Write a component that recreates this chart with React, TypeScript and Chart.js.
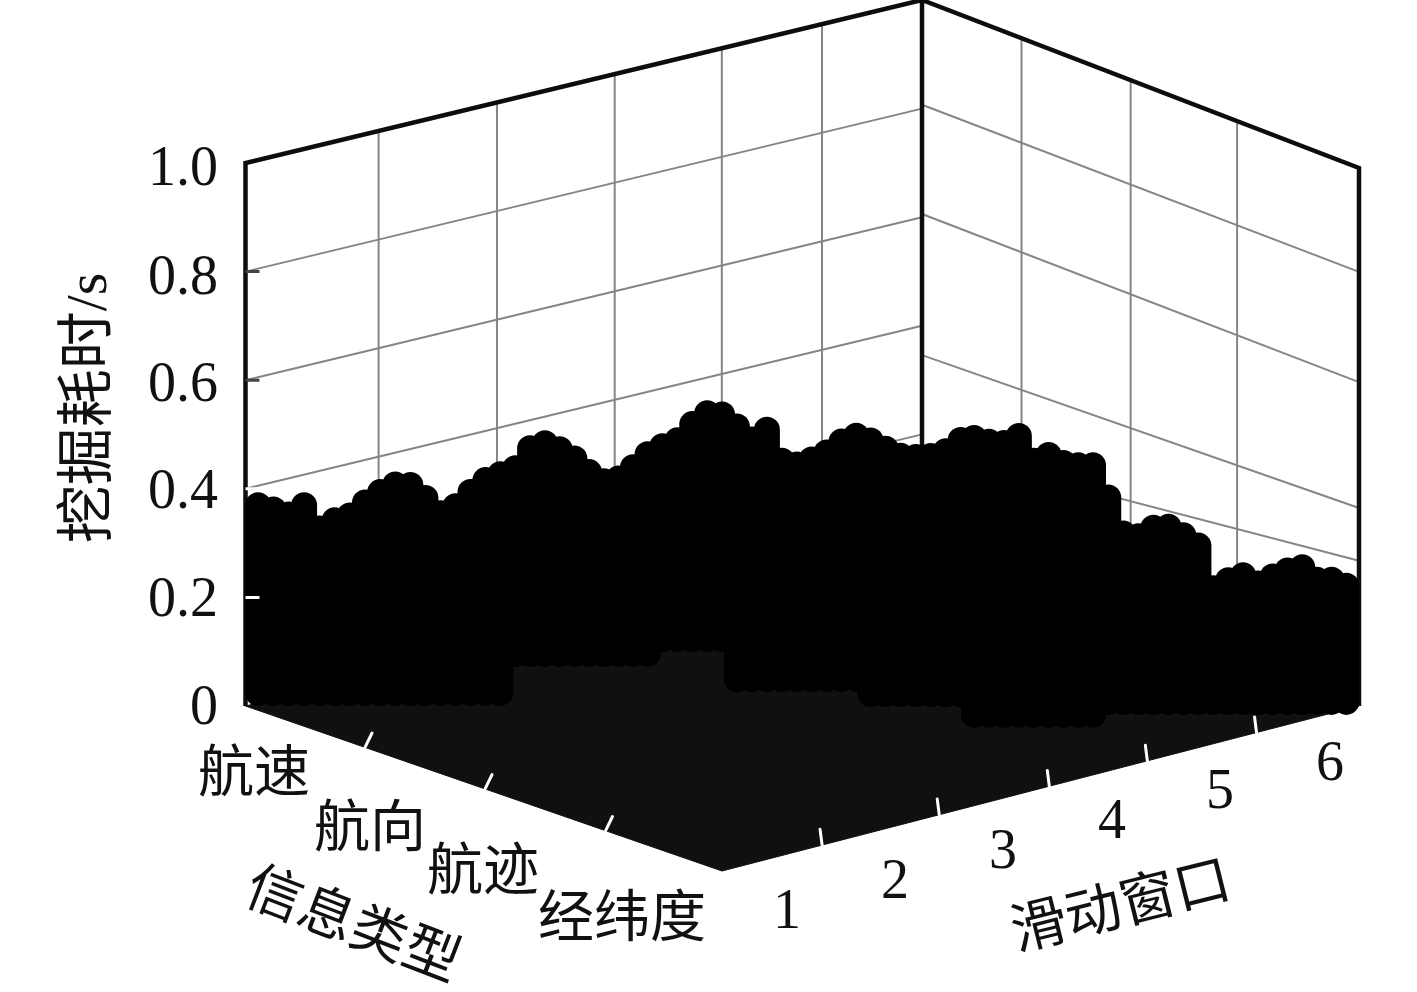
import React, { useEffect, useRef } from "react";
import { Chart, registerables } from "chart.js";

Chart.register(...registerables);

// ---------- chart values ----------
const windowLabels = ["1", "2", "3", "4", "5", "6"];
const typeLabels = ["航速", "航向", "航迹", "经纬度"];
const timeLabels = ["0", "0.2", "0.4", "0.6", "0.8", "1.0"];
const timeTicks = [0, 0.2, 0.4, 0.6, 0.8, 1.0];

const frontWindowTicks = [0.91, 1.99, 3.02, 3.95, 5.0];
const edgeTypeTicks = [0.98, 1.98, 3.0];
const leftWallWindows = [1.14, 2.17, 3.21, 4.17, 5.08];
const rightWallTypes = [0.89, 1.88, 2.86];
const leftWallLevels = [0.8, 0.6, 0.4, 0.2];
const rightWallBackLevels = [0.807, 0.606, 0.346, 0.177];
const rightWallSideLevels = [0.807, 0.602, 0.368, 0.27];

// Each row of stems runs from (window, type) start to end, one time value per stem.
const rowWindowStart = [0.25, 2.14, 3.14, 2.94, 3.44, 3.69, 4.63];
const rowWindowEnd = [1.49, 2.84, 3.46, 3.59, 3.93, 4.35, 5.99];
const rowTypeStart = [-0.137, 0.183, 0.475, 1.31, 2.0, 2.68, 2.99];
const rowTypeEnd = [0.68, 0.636, 0.683, 1.73, 2.33, 3.12, 3.89];
const row1Times = [0.346, 0.338, 0.329, 0.346, 0.303, 0.318, 0.327, 0.351, 0.37, 0.384, 0.383, 0.359, 0.331, 0.344, 0.37, 0.392, 0.403];
const row2Times = [0.342, 0.379, 0.388, 0.377, 0.36, 0.335, 0.318, 0.323, 0.344, 0.368];
const row3Times = [0.355, 0.366, 0.396, 0.416, 0.414];
const row4Times = [0.466, 0.442, 0.46, 0.403, 0.396, 0.405, 0.418, 0.438, 0.449];
const row5Times = [0.468, 0.453, 0.44, 0.438, 0.44, 0.449, 0.47];
const row6Times = [0.512, 0.505, 0.503, 0.516, 0.47, 0.481, 0.466, 0.462, 0.462];
const row7Times = [0.379, 0.312, 0.307, 0.323, 0.325, 0.309, 0.29, 0.211, 0.226, 0.235, 0.22, 0.233, 0.244, 0.25, 0.227, 0.227, 0.216];
const rowTimes = [row1Times, row2Times, row3Times, row4Times, row5Times, row6Times, row7Times];

// ---------- projection of the 3D box onto the page ----------
const L = [245.5, 706];
const Bk = [922, 543];
const Rt = [1359, 706];
const Fr = [722, 871];
const sx = L[0] - Bk[0] + Rt[0] - Fr[0];
const sy = L[1] - Bk[1] + Rt[1] - Fr[1];
const dx1 = Bk[0] - Rt[0];
const dx2 = Fr[0] - Rt[0];
const dy1 = Bk[1] - Rt[1];
const dy2 = Fr[1] - Rt[1];
const den = dx1 * dy2 - dx2 * dy1;
const g = (sx * dy2 - dx2 * sy) / den;
const h = (dx1 * sy - sx * dy1) / den;
const a = Bk[0] - L[0] + g * Bk[0];
const b = Fr[0] - L[0] + h * Fr[0];
const d = Bk[1] - L[1] + g * Bk[1];
const e = Fr[1] - L[1] + h * Fr[1];

function project(win: number, type: number, time: number) {
  const u = win / 6;
  const v = type / 4;
  const w = g * u + h * v + 1;
  const x = (a * u + b * v + L[0]) / w;
  const y = (d * u + e * v + L[1]) / w;
  return { x, y: y - time * (543 - 5 * u * v) };
}

const GRID = "#858585";
const FRAME = "#0d0d0d";

function lineSet(points: { x: number; y: number }[], color: string, width: number, extra: object = {}) {
  return {
    data: points,
    showLine: true,
    borderColor: color,
    backgroundColor: color,
    borderWidth: width,
    pointRadius: 0,
    tension: 0,
    fill: false,
    clip: false,
    ...extra,
  };
}

function buildDatasets() {
  const sets: any[] = [];
  // wall grid
  leftWallLevels.forEach((z) => sets.push(lineSet([project(0, 0, z), project(6, 0, z)], GRID, 2)));
  rightWallBackLevels.forEach((z, i) =>
    sets.push(lineSet([project(6, 0, z), project(6, 4, rightWallSideLevels[i])], GRID, 2))
  );
  leftWallWindows.forEach((w) => sets.push(lineSet([project(w, 0, 0), project(w, 0, 1)], GRID, 2)));
  rightWallTypes.forEach((t) => sets.push(lineSet([project(6, t, 0), project(6, t, 1)], GRID, 2)));
  // frame
  sets.push(lineSet([project(0, 0, 0), project(0, 0, 1), project(6, 0, 1), project(6, 4, 1), project(6, 4, 0)], FRAME, 4.5, { borderJoinStyle: "miter" }));
  sets.push(lineSet([project(6, 0, 0), project(6, 0, 1)], FRAME, 4.5));
  // floor
  sets.push(
    lineSet([project(0, 0, 0), project(6, 0, 0), project(6, 4, 0), project(0, 4, 0), project(0, 0, 0)], "#101010", 1, { fill: "shape" })
  );
  // stems
  rowTimes.forEach((times, r) => {
    times.forEach((time, k) => {
      const f = times.length > 1 ? k / (times.length - 1) : 0;
      const w = rowWindowStart[r] + (rowWindowEnd[r] - rowWindowStart[r]) * f;
      const t = rowTypeStart[r] + (rowTypeEnd[r] - rowTypeStart[r]) * f;
      sets.push(lineSet([project(w, t, 0), project(w, t, time)], "#000000", 26, { borderCapStyle: "round" }));
    });
  });
  // floor and wall ticks
  frontWindowTicks.forEach((w) =>
    sets.push(lineSet([project(w, 4, 0), project(w + 0.228, 3.763, 0)], "#ffffff", 3, { borderCapStyle: "round" }))
  );
  edgeTypeTicks.forEach((t) =>
    sets.push(lineSet([project(0, t, 0), project(0.2456, t - 0.177, 0)], "#ffffff", 3, { borderCapStyle: "round" }))
  );
  timeTicks.slice(1, 5).forEach((z) =>
    sets.push(lineSet([project(0, 0, z), project(0.07, 0.047, z)], z < 0.5 ? "#ffffff" : "#444444", 3))
  );
  // Chart.js paints the first dataset last
  return sets.reverse();
}

const SERIF = '"Liberation Serif", "Noto Sans CJK SC", serif';
const CJK = '"Noto Sans CJK SC", "Liberation Serif", serif';

const timeAnchors = [709, 601, 493, 386, 279, 170];
const windowAnchors = [[787, 913], [895, 883], [1003, 853], [1112, 823], [1220, 793], [1330, 765]];
const typeAnchors = [[254, 770], [370, 825], [483, 868], [622, 915]];

const textPlugin = {
  id: "labels3d",
  afterDraw(chart: any) {
    const { ctx, scales } = chart;
    const px = (x: number) => scales.x.getPixelForValue(x);
    const py = (y: number) => scales.y.getPixelForValue(y);
    ctx.save();
    ctx.fillStyle = "#111111";
    ctx.textBaseline = "middle";
    ctx.textAlign = "right";
    ctx.font = `56px ${SERIF}`;
    timeLabels.forEach((s, i) => ctx.fillText(s, px(218), py(timeAnchors[i])));
    ctx.textAlign = "center";
    windowLabels.forEach((s, i) => ctx.fillText(s, px(windowAnchors[i][0]), py(windowAnchors[i][1])));
    ctx.font = `56px ${CJK}`;
    typeLabels.forEach((s, i) => ctx.fillText(s, px(typeAnchors[i][0]), py(typeAnchors[i][1])));
    const rotated = (s: string, x: number, y: number, deg: number, font: string) => {
      ctx.save();
      ctx.translate(px(x), py(y));
      ctx.rotate((deg * Math.PI) / 180);
      ctx.font = font;
      ctx.fillText(s, 0, 0);
      ctx.restore();
    };
    rotated("信息类型", 354, 922, 21, `56px ${CJK}`);
    rotated("滑动窗口", 1120, 903, -14, `56px ${CJK}`);
    rotated("挖掘耗时/s", 91, 408, -90, `58px ${SERIF}`);
    ctx.restore();
  },
};

export default function App() {
  const ref = useRef<HTMLCanvasElement | null>(null);
  useEffect(() => {
    if (!ref.current) return;
    const chart = new Chart(ref.current, {
      type: "scatter",
      data: { datasets: buildDatasets() },
      options: {
        animation: false,
        responsive: false,
        layout: { padding: 0 },
        plugins: { legend: { display: false }, tooltip: { enabled: false } },
        scales: {
          x: { type: "linear", min: 0, max: 1417, display: false },
          y: { type: "linear", min: 0, max: 992, reverse: true, display: false },
        },
      },
      plugins: [textPlugin],
    } as any);
    return () => chart.destroy();
  }, []);
  return (
    <canvas
      ref={ref}
      width={1417}
      height={992}
      style={{ position: "absolute", left: 0, top: 0, width: 1417, height: 992, background: "#fff" }}
    />
  );
}
